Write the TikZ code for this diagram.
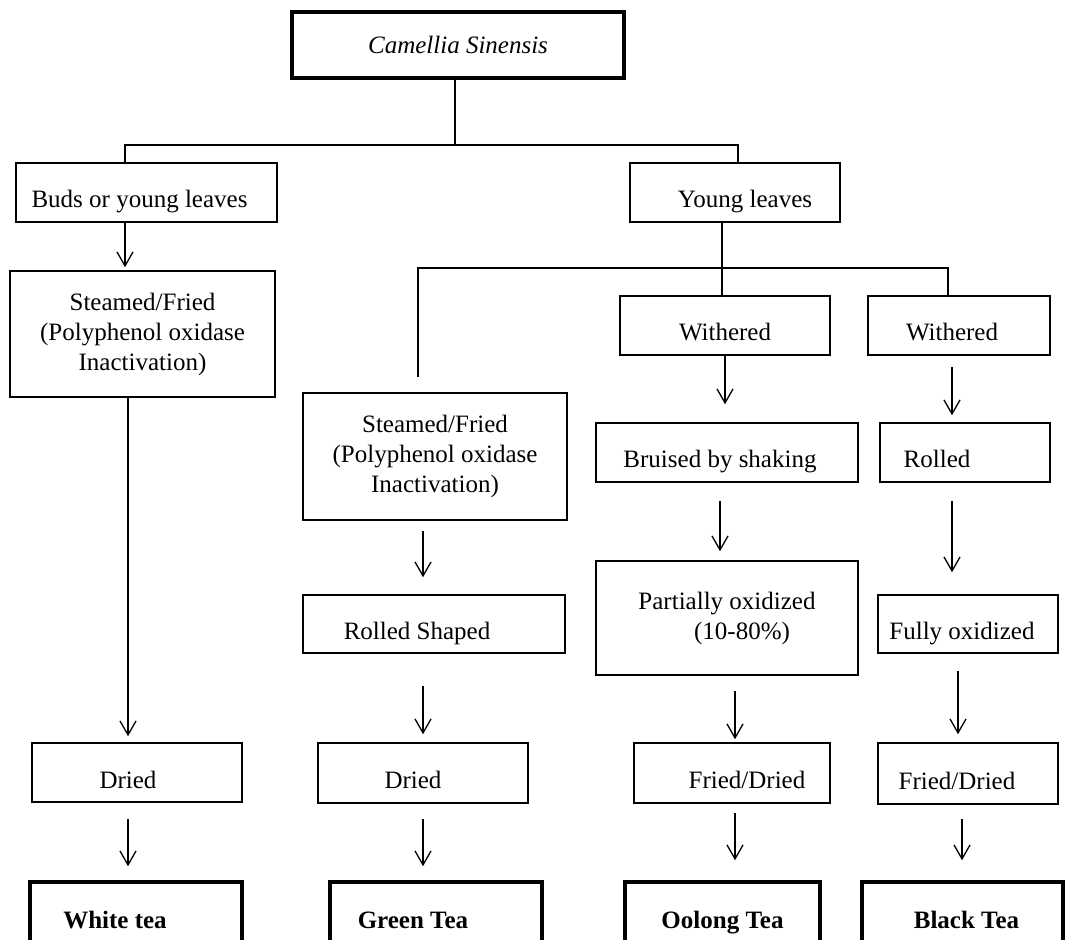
\documentclass[tikz,border=0pt]{standalone}
\usepackage{fontspec}
\setmainfont{Liberation Serif}
\usetikzlibrary{arrows.meta}

\begin{document}
\begin{tikzpicture}[
  x=0.5pt, y=-0.5pt,
  font=\fontsize{12.5}{15}\selectfont,
  box/.style={draw, line width=0.75pt, inner sep=2pt, text height=15.5pt, text depth=0pt},
  mbox/.style={draw, line width=0.75pt, inner sep=2pt, align=center},
  hbox/.style={draw, line width=1.75pt, inner sep=2pt},
  tea/.style={hbox, text height=15.5pt, text depth=0pt},
  arr/.style={-{Straight Barb[length=7pt,width=8pt]}, line width=0.65pt},
  tree/.style={line width=0.75pt},
]
\useasboundingbox (0,0) rectangle (1065,940);
\clip (0,0) rectangle (1065,940);
% source plant
\node[hbox, minimum width=166pt, minimum height=33pt] (plant) at (458,45) {\textit{Camellia Sinensis}};
\node[box, minimum width=130.5pt, minimum height=29.5pt] (buds) at (146.5,192.5) {Buds or young leaves\kern7pt};
\node[box, minimum width=105pt, minimum height=29.5pt] (young) at (735,192.5) {\kern10pt Young leaves};
% white tea
\node[mbox, minimum width=132.5pt, minimum height=63pt] (steamA) at (142.5,334) {Steamed/Fried\\(Polyphenol oxidase\\Inactivation)};
\node[box, minimum width=105pt, minimum height=29.5pt] (driedA) at (137,772.5) {Dried\kern9pt};
\node[tea, minimum width=106pt, minimum height=31pt] (white) at (136,913) {\textbf{White tea}\kern21pt};
% green tea
\node[mbox, minimum width=132pt, minimum height=63.5pt] (steamB) at (435,456.5) {Steamed/Fried\\(Polyphenol oxidase\\Inactivation)};
\node[box, minimum width=131pt, minimum height=29pt] (rollshape) at (434,624) {Rolled Shaped\kern17pt};
\node[box, minimum width=105pt, minimum height=30pt] (driedB) at (423,773) {Dried\kern10pt};
\node[tea, minimum width=106pt, minimum height=31pt] (green) at (436,913) {\textbf{Green Tea}\kern23pt};
% oolong tea
\node[box, minimum width=105pt, minimum height=29.5pt] (witherA) at (725,325.5) {Withered};
\node[box, minimum width=131pt, minimum height=29.5pt] (bruised) at (727,452.5) {Bruised by shaking\kern7pt};
\node[mbox, minimum width=131pt, minimum height=57pt] (partial) at (727,618) {Partially oxidized\\\hspace*{15pt}(10-80\%)};
\node[box, minimum width=98pt, minimum height=30pt] (friedA) at (732,773) {\kern15pt Fried/Dried};
\node[tea, minimum width=97.5pt, minimum height=31pt] (oolong) at (722.5,913) {\textbf{Oolong Tea}};
% black tea
\node[box, minimum width=91pt, minimum height=29.5pt] (witherB) at (959,325.5) {Withered\kern7pt};
\node[box, minimum width=85pt, minimum height=29.5pt] (rolled) at (965,452.5) {Rolled\kern28pt};
\node[box, minimum width=90pt, minimum height=29pt] (fully) at (968,624) {Fully oxidized\kern6pt};
\node[box, minimum width=90pt, minimum height=30.5pt] (friedB) at (968,773.5) {Fried/Dried\kern11pt};
\node[tea, minimum width=100.5pt, minimum height=31pt] (black) at (962.5,913) {\kern4pt\textbf{Black Tea}};
% branching lines
\coordinate (forkA) at (455,145);
\coordinate (forkB) at (722,268);
\draw[tree] (plant.south -| forkA) -- (forkA);
\draw[tree] ([xshift=-10.75pt]buds.north) |- (forkA) -| ([xshift=1.5pt]young.north);
\draw[tree] (young.south -| forkB) -- (witherA.north -| forkB);
\draw[tree] ([xshift=-8.5pt, yshift=7.5pt]steamB.north) |- (forkB) -| ([xshift=-5.5pt]witherB.north);
% process arrows
\foreach \a/\b/\dx/\s/\e in {buds/steamA/-10.75/0/1.5, steamA/driedA/-7.25/0/3, driedA/white/-4.5/8/7,
    steamB/rollshape/-6/5/8.5, rollshape/driedB/-5.5/16/4, driedB/green/0/7.5/7,
    witherA/bruised/0/0/9, bruised/partial/-3.5/9/4.5, partial/friedA/4/7.5/1.5, friedA/oolong/1.5/4.5/10,
    witherB/rolled/-3.5/5.5/3.5, rolled/fully/-6.5/9/11, fully/friedB/-5/8.5/4, friedB/black/-3/7/10}
  \draw[arr, shorten <=\s pt, shorten >=\e pt] ([xshift=\dx pt]\a.south) -- ([xshift=\dx pt]\a.south |- \b.north);
\end{tikzpicture}
\end{document}
